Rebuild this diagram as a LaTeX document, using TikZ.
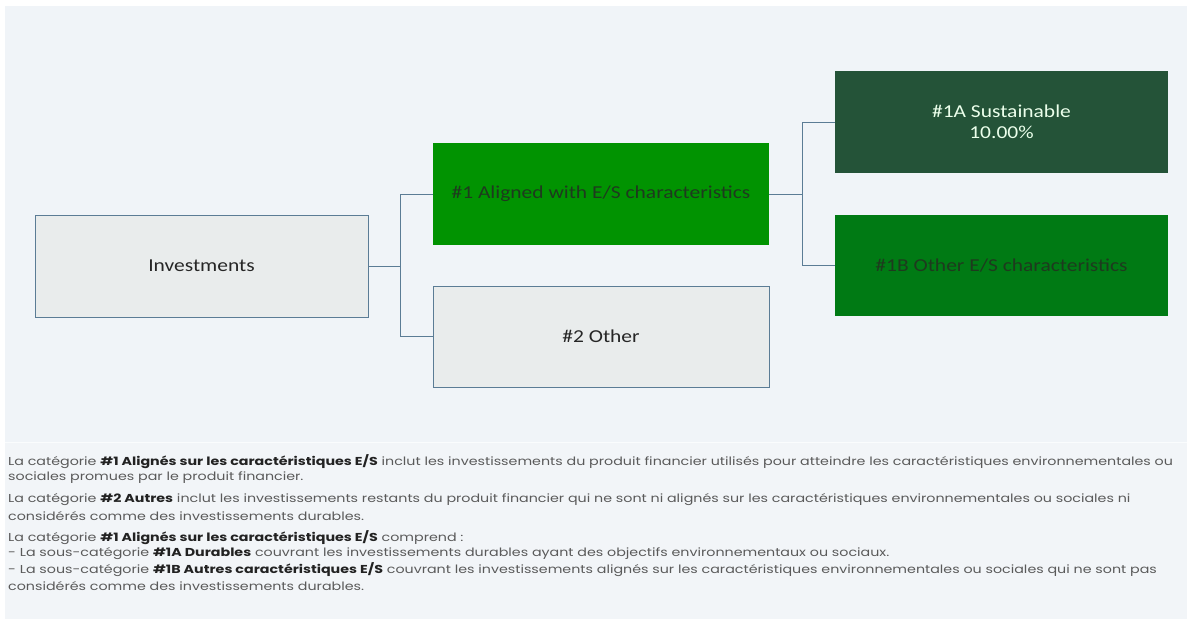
\documentclass[tikz,border=0pt]{standalone}
\usepackage{fontspec}
\setmainfont{Carlito}
\newfontfamily\boxfont[FakeStretch=1.18]{Carlito}
\newfontfamily\bodyfont[FakeStretch=1.24]{Poppins}
\definecolor{bgc}{HTML}{F0F4F8}
\definecolor{txtbg}{HTML}{F2F5F8}
\definecolor{greyfill}{HTML}{E9ECEC}
\definecolor{edgec}{HTML}{5B7C95}
\definecolor{greenA}{HTML}{019301}
\definecolor{darkgreen}{HTML}{245338}
\definecolor{greenB}{HTML}{007A14}
\definecolor{darktxt}{HTML}{1E3A1E}
\definecolor{bodytxt}{HTML}{5A5A5A}
\definecolor{boldtxt}{HTML}{222222}
\tikzset{
  box/.style={rectangle, minimum width=333pt, minimum height=102pt, inner sep=0pt, font=\boxfont\fontsize{18.2}{21}\selectfont, align=center},
  greybox/.style={box, fill=greyfill, draw=edgec, line width=1pt, text=black!85},
  greenbox/.style={box, fill=greenA, text=darktxt},
  dgbox/.style={box, fill=darkgreen, text=white!92!green},
  gbbox/.style={box, fill=greenB, text=darktxt},
  conn/.style={draw=edgec, line width=1pt},
  bodyline/.style={anchor=west, inner sep=0pt, text=bodytxt, font=\bodyfont\fontsize{11.5}{13}\selectfont}
}
\newcommand{\bt}[1]{\textcolor{boldtxt}{\bfseries #1}}
\begin{document}
\begin{tikzpicture}[x=1pt,y=-1pt]
\useasboundingbox (0,0) rectangle (1187,619);
\fill[white] (0,0) rectangle (1187,619);
\fill[bgc] (5,6) rectangle (1187,619);
\fill[txtbg] (5,442) rectangle (1187,619);
\draw[white!70!bgc, line width=1pt] (5,442) -- (1187,442);

\node[greybox, minimum width=333pt] (inv) at (201.5,266) {Investments};
\node[greenbox, minimum width=336pt] (a1) at (601,194) {\#1 Aligned with E/S characteristics};
\node[greybox, minimum width=336pt, minimum height=101pt] (o2) at (601,336.5) {\#2 Other};
\node[dgbox] (s1a) at (1001.5,122) {\#1A Sustainable\\[0pt]10.00\%};
\node[gbbox, minimum height=101pt] (o1b) at (1001.5,265.5) {\#1B Other E/S characteristics};

\coordinate (j1) at (400,266);
\coordinate (j2) at (802,194);
\draw[conn] (inv.east) -- (j1) |- (a1.west);
\draw[conn] (j1) |- (o2.west);
\draw[conn] (a1.east) -- (j2) |- (s1a.west);
\draw[conn] (j2) |- (o1b.west);

\node[bodyline] (l1) at (8,462) {La catégorie \bt{\#1 Alignés sur les caractéristiques E/S} inclut les investissements du produit financier utilisés pour atteindre les caractéristiques environnementales ou};
\node[bodyline] (l2) at (8,478) {sociales promues par le produit financier.};
\node[bodyline] (l3) at (8,500) {La catégorie \bt{\#2 Autres} inclut les investissements restants du produit financier qui ne sont ni alignés sur les caractéristiques environnementales ou sociales ni};
\node[bodyline] (l4) at (8,516) {considérés comme des investissements durables.};
\node[bodyline] (l5) at (8,538) {La catégorie \bt{\#1 Alignés sur les caractéristiques E/S} comprend :};
\node[bodyline] (l6) at (8,554) {- La sous-catégorie \bt{\#1A Durables} couvrant les investissements durables ayant des objectifs environnementaux ou sociaux.};
\node[bodyline] (l7) at (8,570) {- La sous-catégorie \bt{\#1B Autres caractéristiques E/S} couvrant les investissements alignés sur les caractéristiques environnementales ou sociales qui ne sont pas};
\node[bodyline] (l8) at (8,586) {considérés comme des investissements durables.};
\end{tikzpicture}
\end{document}
